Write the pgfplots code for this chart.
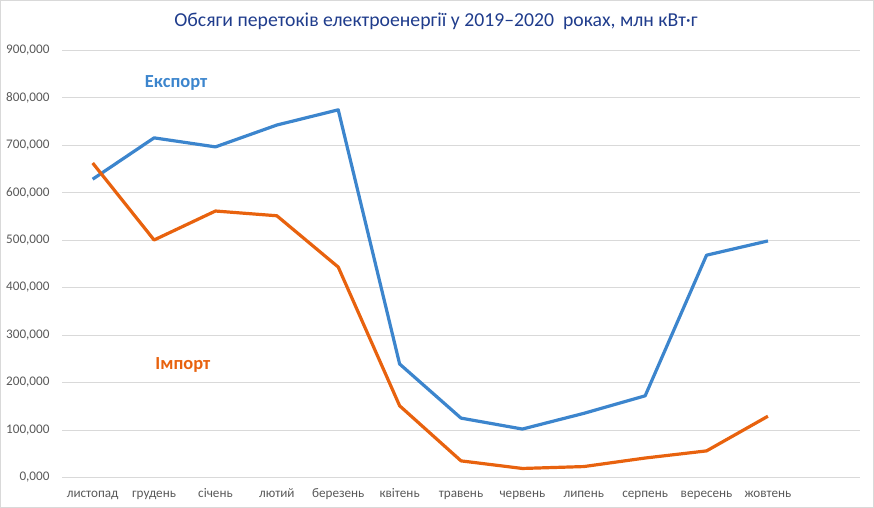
\documentclass[border=0pt]{standalone}
\usepackage{pgfplots}
\pgfplotsset{compat=1.18}
\usepackage{fontspec}
\setmainfont{Carlito}
\definecolor{expblue}{HTML}{3C85CD}
\definecolor{imporange}{HTML}{E8620E}
\definecolor{titleblue}{HTML}{1F3C8C}
\definecolor{ticktext}{HTML}{595959}
\definecolor{gridc}{HTML}{D9D9D9}
\begin{document}
\begin{tikzpicture}[x=1bp,y=1bp]
\draw[gridc, line width=0.8bp] (0.4,0.4) rectangle (873.6,507.6);
\node[text=titleblue, font=\fontsize{19.8}{22}\selectfont] at (436,487) {Обсяги перетоків електроенергії у 2019–2020\ \ роках, млн кВт·г};
\begin{axis}[
  at={(62bp,30.5bp)}, anchor=south west,
  scale only axis, width=798bp, height=427.5bp,
  xmin=-0.5, xmax=12.5, ymin=0, ymax=900,
  axis line style={draw=none},
  xtick={0,...,11},
  xticklabels={листопад,грудень,січень,лютий,березень,квітень,травень,червень,липень,серпень,вересень,жовтень},
  ytick={0,100,...,900},
  major tick length=0pt,
  ymajorgrids, grid style={gridc, line width=0.9bp},
  tick label style={text=ticktext, font=\fontsize{13.2}{15}\selectfont},
  yticklabel style={xshift=-9bp, /pgf/number format/fixed, /pgf/number format/fixed zerofill, /pgf/number format/precision=3, /pgf/number format/use comma, /pgf/number format/1000 sep={}, /pgf/number format/assume math mode=true},
  xticklabel style={anchor=base, yshift=-20bp},
  clip=false,
]
\addplot[expblue, line width=3.2bp, line join=round] coordinates {
 (0,628) (1,715) (2,696) (3,742) (4,774) (5,239) (6,125) (7,102) (8,135) (9,172) (10,468) (11,498)};
\addplot[imporange, line width=3.2bp, line join=round] coordinates {
 (0,662) (1,500) (2,561) (3,551) (4,443) (5,151) (6,35) (7,19) (8,23) (9,41) (10,56) (11,129)};
\node[text=expblue, font=\fontsize{18.5}{20}\selectfont\bfseries] at (axis cs:1.36,831) {Експорт};
\node[text=imporange, font=\fontsize{18.5}{20}\selectfont\bfseries] at (axis cs:1.47,237) {Імпорт};
\end{axis}
\end{tikzpicture}
\end{document}
